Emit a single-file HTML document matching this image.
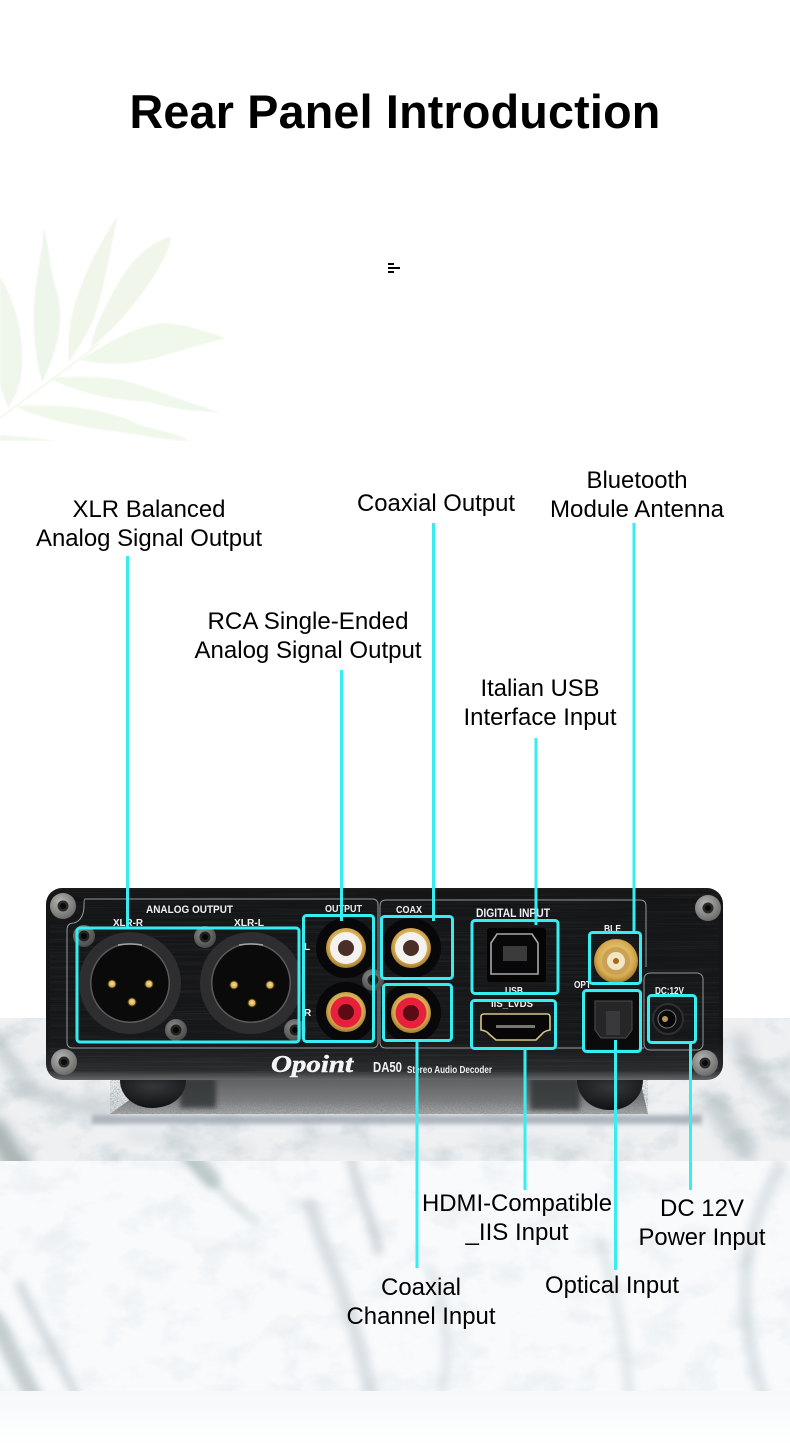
<!DOCTYPE html>
<html><head><meta charset="utf-8"><title>Rear Panel Introduction</title>
<style>html,body{margin:0;padding:0;background:#fff;width:790px;height:1449px;overflow:hidden}svg{display:block}</style></head>
<body>
<svg xmlns="http://www.w3.org/2000/svg" width="790" height="1449" viewBox="0 0 790 1449" font-family="'Liberation Sans',sans-serif">
<defs>
<filter id="b05" x="-10%" y="-10%" width="120%" height="120%"><feGaussianBlur stdDeviation=".7"/></filter>
<filter id="b1" x="-10%" y="-100%" width="120%" height="300%"><feGaussianBlur stdDeviation="2"/></filter>
<filter id="b2" x="-30%" y="-30%" width="160%" height="160%"><feGaussianBlur stdDeviation="2.5"/></filter>
<filter id="b3" filterUnits="userSpaceOnUse" x="-50" y="1100" width="890" height="340"><feGaussianBlur stdDeviation="4"/></filter>
<filter id="b4" filterUnits="userSpaceOnUse" x="-50" y="980" width="890" height="240"><feGaussianBlur stdDeviation="6"/></filter>
<filter id="mt" x="0" y="0" width="100%" height="100%">
<feTurbulence type="fractalNoise" baseFrequency="0.025 0.035" numOctaves="5" seed="11"/>
<feColorMatrix values="0 0 0 0 .62 0 0 0 0 .68 0 0 0 0 .71 3 0 0 0 -1.45"/>
</filter>
<filter id="brush" x="0" y="0" width="100%" height="100%">
<feTurbulence type="fractalNoise" baseFrequency="0.008 0.8" numOctaves="2" seed="3"/>
<feColorMatrix values="0 0 0 0 .45 0 0 0 0 .45 0 0 0 0 .45 1.4 0 0 0 -0.6"/>
</filter>
<filter id="grain" x="0" y="0" width="100%" height="100%">
<feTurbulence type="fractalNoise" baseFrequency="0.75" numOctaves="2" seed="5"/>
<feColorMatrix values="0 0 0 0 .15 0 0 0 0 .15 0 0 0 0 .15 2 0 0 0 -0.8"/>
</filter>
<linearGradient id="bot" x1="0" y1="0" x2="0" y2="1"><stop offset="0" stop-color="#f6f8f9"/><stop offset="1" stop-color="#fff"/></linearGradient>
<linearGradient id="body" x1="0" y1="0" x2="0" y2="1"><stop offset="0" stop-color="#1c1d1f"/><stop offset=".02" stop-color="#141517"/><stop offset=".8" stop-color="#161719"/><stop offset=".95" stop-color="#2a2b2d"/><stop offset="1" stop-color="#68696c"/></linearGradient>
<linearGradient id="plat" x1="0" y1="0" x2="0" y2="1"><stop offset="0" stop-color="#5f6062"/><stop offset=".6" stop-color="#7e7f81"/><stop offset="1" stop-color="#a8a9ab"/></linearGradient>
<radialGradient id="foot" cx=".5" cy=".25" r=".8"><stop offset="0" stop-color="#36373a"/><stop offset="1" stop-color="#0e0f11"/></radialGradient>
<radialGradient id="screw" cx=".4" cy=".35" r=".8"><stop offset="0" stop-color="#b6b6b4"/><stop offset="1" stop-color="#5c5c5a"/></radialGradient>
<radialGradient id="screwd" cx=".4" cy=".35" r=".8"><stop offset="0" stop-color="#8a8a88"/><stop offset="1" stop-color="#3c3c3c"/></radialGradient>
<radialGradient id="gold" cx=".5" cy=".45" r=".6"><stop offset="0" stop-color="#f6e3a0"/><stop offset=".7" stop-color="#d5a94e"/><stop offset="1" stop-color="#8b6720"/></radialGradient>
<clipPath id="leafclip"><rect x="0" y="200" width="260" height="241"/></clipPath>
<clipPath id="m1"><rect x="0" y="1018" width="790" height="143"/></clipPath>
<clipPath id="m2"><rect x="0" y="1161" width="790" height="230"/></clipPath>
<g id="sc"><circle r="11" fill="url(#screwd)"/><circle r="5.500" fill="#232324"/><circle r="3" fill="#060606"/></g>
<g id="sc2"><circle r="13" fill="url(#screw)"/><circle r="5.500" fill="#2a2a2b"/><circle r="3" fill="#0a0a0a"/></g>
</defs>

<rect width="790" height="1449" fill="#fff"/>

<!-- leaves -->
<g clip-path="url(#leafclip)">
<g filter="url(#b05)">
<path d="M0 276C14 300 23 330 22 362C22 385 15 396 8 408C4 396 0 386 0 384Z" fill="#eff6ec"/>
<path d="M44 228C50 250 50 275 58 295C63 320 60 345 42 382C36 360 33 335 34 305C36 275 42 255 44 228Z" fill="#eef5eb"/>
<path d="M118 215C110 250 105 285 95 315C88 335 76 350 69 362C67 340 70 315 78 295C88 265 105 235 118 215Z" fill="#f0f6ea"/>
<path d="M172 236C165 265 145 290 125 315C112 330 100 340 90 349C95 325 110 295 128 268C142 250 158 240 172 236Z" fill="#f0f6ea"/>
<path d="M226 338C205 332 190 325 165 323C135 325 105 345 80 360C110 366 135 365 165 355C190 348 210 342 226 338Z" fill="#eff8ea"/>
<path d="M220 412C195 405 170 395 130 382C105 376 75 376 50 378C75 392 110 400 150 402C175 410 200 412 220 412Z" fill="#eff8ea"/>
<path d="M190 441C175 432 155 430 140 425C110 410 70 403 15 406C45 422 90 428 140 435C155 438 175 441 190 441Z" fill="#f0f8eb"/>
<path d="M0 435C20 436 40 438 54 441H0Z" fill="#f0f8eb"/>
</g>
<path d="M0 418L50 381L78 360L100 343" stroke="#f5f8ea" stroke-width="2" fill="none"/>
</g>

<!-- title -->
<text x="395" y="128" text-anchor="middle" font-size="47" font-weight="bold" fill="#000" textLength="531" lengthAdjust="spacingAndGlyphs" style="letter-spacing:.2px">Rear Panel Introduction</text>

<!-- glyph -->
<rect x="388" y="263" width="6" height="2" fill="#000"/>
<rect x="388" y="267" width="12" height="2" fill="#000"/>
<rect x="388" y="271" width="6" height="2" fill="#000"/>

<!-- marble -->
<rect x="0" y="1018" width="790" height="143" fill="#eef0f2"/>
<rect x="0" y="1161" width="790" height="230" fill="#f8fafc"/>
<rect x="0" y="1018" width="790" height="143" filter="url(#mt)" opacity=".8"/>
<rect x="0" y="1161" width="790" height="230" filter="url(#mt)" opacity=".25"/>
<g clip-path="url(#m1)">
<g fill="none" stroke="#9daab0" stroke-linecap="round" filter="url(#b4)">
<path d="M-5 1040L30 1090L70 1105L110 1110" stroke-width="14" opacity=".45"/>
<path d="M-5 1130L20 1170" stroke="#7d8d8d" stroke-width="24" opacity=".6"/>
<path d="M715 1105L745 1150" stroke-width="22" opacity=".45"/>
<path d="M740 1040C745 1070 770 1095 790 1105" stroke-width="16" opacity=".4"/>
<path d="M130 1135L250 1150M300 1135L400 1150M480 1140L590 1150" stroke-width="6" opacity=".3"/>
</g>
</g>
<g clip-path="url(#m2)">
<g fill="none" stroke="#a6b2b8" stroke-linecap="round" filter="url(#b3)">
<path d="M185 1150C195 1175 215 1180 225 1195C235 1205 245 1215 255 1220" stroke-width="6" opacity=".4"/>
<path d="M190 1155L212 1180" stroke="#93a8a8" stroke-width="18" opacity=".5"/>
<path d="M310 1205C320 1240 335 1270 345 1300C355 1330 365 1365 372 1400" stroke-width="14" opacity=".35"/>
<path d="M350 1150C355 1190 372 1215 378 1250" stroke-width="10" opacity=".45"/>
<path d="M20 1285C35 1320 55 1350 78 1400" stroke-width="10" opacity=".4"/>
<path d="M-5 1320L35 1400" stroke="#98a8a8" stroke-width="18" opacity=".5"/>
<path d="M600 1240C615 1290 625 1340 630 1400" stroke-width="10" opacity=".25"/>
<path d="M780 1165C745 1230 730 1300 765 1400" stroke-width="12" opacity=".3"/>
<path d="M430 1270C450 1320 450 1360 440 1400" stroke-width="10" opacity=".25"/>
</g>
</g>
<rect x="0" y="1391" width="790" height="58" fill="url(#bot)"/>

<!-- platform + shadow -->
<rect x="92" y="1115" width="610" height="9" fill="#9aa2ad" opacity=".75" filter="url(#b1)"/>
<path d="M110 1114L150 1085V1080H640L648 1114Z" fill="url(#plat)"/>
<path d="M110 1114L150 1085V1080H640L648 1114Z" filter="url(#grain)" opacity=".6"/>
<rect x="180" y="1078" width="36" height="30" fill="#2c2d2f" opacity=".75" filter="url(#b2)"/>
<rect x="530" y="1078" width="50" height="32" fill="#2c2d2f" opacity=".75" filter="url(#b2)"/>
<!-- feet -->
<path d="M120 1080H186C186 1096 172 1108 152 1108C134 1108 120 1096 120 1080Z" fill="url(#foot)"/>
<path d="M577 1080H643C643 1096 630 1110 610 1110C590 1110 577 1096 577 1080Z" fill="url(#foot)"/>

<!-- body -->
<rect x="46" y="888" width="677" height="192" rx="16" fill="url(#body)"/>
<rect x="50" y="892" width="669" height="184" rx="12" filter="url(#brush)" opacity=".14"/>
<!-- panel outlines -->
<g fill="none" stroke="#97989a" stroke-width="1">
<path d="M85 899H372Q378 899 378 905V1042Q378 1048 372 1048H73Q67 1048 67 1042V930Q67 923 74 923Q84 920 84 905Q84 899 85 899Z"/>
<path d="M386 900H640Q646 900 646 906V967M386 900Q380 900 380 906V1042Q380 1048 386 1048H644"/>
<rect x="644" y="973" width="59" height="77" rx="6"/>
</g>

<!-- screws -->
<use href="#sc2" x="63" y="906"/><use href="#sc2" x="708" y="908"/>
<use href="#sc2" x="64" y="1062"/><use href="#sc2" x="705" y="1063"/>
<use href="#sc" x="84" y="936"/><use href="#sc" x="205" y="937"/>
<use href="#sc" x="176" y="1030"/><use href="#sc" x="295" y="1030"/><use href="#sc" x="373" y="980"/>

<!-- XLR -->
<g>
<circle cx="130" cy="983" r="51" fill="#2e2e30"/><circle cx="130" cy="983" r="40" fill="#5a5a5c"/><circle cx="130" cy="983" r="38.500" fill="#0a0a0b"/>
<circle cx="251" cy="983" r="51" fill="#2e2e30"/><circle cx="251" cy="983" r="40" fill="#5a5a5c"/><circle cx="251" cy="983" r="38.500" fill="#0a0a0b"/>
<path d="M118 945Q130 943 142 945M239 945Q251 943 263 945" stroke="#a4a4a4" stroke-width="1.5" fill="none"/>
<g fill="url(#gold)" stroke="#4a390f" stroke-width="1">
<circle cx="112" cy="984" r="4"/><circle cx="149" cy="984" r="4"/><circle cx="132" cy="1002" r="4"/>
<circle cx="234" cy="985" r="4"/><circle cx="270" cy="985" r="4"/><circle cx="252" cy="1003" r="4"/>
</g>
</g>

<!-- RCA -->
<g>
<circle cx="346" cy="948" r="30" fill="#08080a"/><circle cx="346" cy="948" r="20" fill="url(#gold)"/><circle cx="346" cy="948" r="16" fill="#f4f2ee"/><circle cx="346" cy="948" r="8" fill="#4a2f28"/>
<circle cx="346" cy="1012" r="30" fill="#08080a"/><circle cx="346" cy="1012" r="20" fill="url(#gold)"/><circle cx="346" cy="1012" r="15.500" fill="#e8203c"/><circle cx="346" cy="1012" r="8" fill="#5c0b15"/>
<circle cx="411" cy="948" r="30" fill="#08080a"/><circle cx="411" cy="948" r="20" fill="url(#gold)"/><circle cx="411" cy="948" r="16" fill="#f4f2ee"/><circle cx="411" cy="948" r="8" fill="#4a2f28"/>
<circle cx="411" cy="1013" r="30" fill="#08080a"/><circle cx="411" cy="1013" r="20" fill="url(#gold)"/><circle cx="411" cy="1013" r="15.500" fill="#e8203c"/><circle cx="411" cy="1013" r="8" fill="#5c0b15"/>
</g>

<!-- USB -->
<rect x="487" y="928" width="59" height="54" rx="3" fill="#050506"/>
<path d="M497 934H532L538 943V974H491V943Z" fill="#08080a" stroke="#a8a8a6" stroke-width="1.6"/>
<rect x="503" y="946" width="24" height="15" fill="#3b3b3c"/>
<!-- HDMI -->
<path d="M481 1017Q481 1014 484 1014H547Q550 1014 550 1017V1030Q544 1031 542 1034L536 1040H496L489 1034Q487 1031 481 1030Z" fill="#070708" stroke="#d8c48a" stroke-width="1.6"/>
<rect x="496" y="1025" width="39" height="3" fill="#77776f"/>
<!-- BLE -->
<circle cx="616" cy="961" r="22" fill="url(#gold)"/><circle cx="616" cy="961" r="14" fill="#caa155"/><circle cx="616" cy="961" r="9" fill="#f1e6c4"/><circle cx="616" cy="961" r="3" fill="#a06a18"/>
<!-- OPT -->
<rect x="585" y="993" width="54" height="56" rx="2" fill="#0b0b0c"/>
<path d="M595 1001H632V1030L626 1038H601L595 1030Z" fill="#262628" stroke="#4a4b4e"/>
<rect x="606" y="1011" width="14" height="24" fill="#39393b"/>
<!-- DC -->
<circle cx="668" cy="1019" r="15" fill="#131316" stroke="#303032" stroke-width="2"/>
<circle cx="667" cy="1019" r="9" fill="#070708" stroke="#767676"/>
<circle cx="665" cy="1019" r="3" fill="#b49a52"/>

<!-- device text -->
<g fill="#f1f1f1" font-weight="bold">
<text x="146" y="913" font-size="11" textLength="87" lengthAdjust="spacingAndGlyphs">ANALOG OUTPUT</text>
<text x="113" y="926" font-size="10" textLength="30" lengthAdjust="spacingAndGlyphs">XLR-R</text>
<text x="234" y="926" font-size="10" textLength="30" lengthAdjust="spacingAndGlyphs">XLR-L</text>
<text x="325" y="912" font-size="10" textLength="37" lengthAdjust="spacingAndGlyphs">OUTPUT</text>
<text x="396" y="913" font-size="10" textLength="26" lengthAdjust="spacingAndGlyphs">COAX</text>
<text x="476" y="917" font-size="12" textLength="74" lengthAdjust="spacingAndGlyphs">DIGITAL INPUT</text>
<text x="604" y="932" font-size="10" textLength="17" lengthAdjust="spacingAndGlyphs">BLE</text>
<text x="505" y="994" font-size="10" textLength="18" lengthAdjust="spacingAndGlyphs">USB</text>
<text x="491" y="1007" font-size="10" textLength="42" lengthAdjust="spacingAndGlyphs">IIS_LVDS</text>
<text x="574" y="988" font-size="10" textLength="17" lengthAdjust="spacingAndGlyphs">OPT</text>
<text x="655" y="994" font-size="10" textLength="29" lengthAdjust="spacingAndGlyphs">DC:12V</text>
<text x="304" y="950" font-size="10">L</text>
<text x="304" y="1016" font-size="10">R</text>
<text x="373" y="1072" font-size="15" textLength="29" lengthAdjust="spacingAndGlyphs">DA50</text>
<text x="407" y="1073" font-size="10" textLength="85" lengthAdjust="spacingAndGlyphs">Stereo Audio Decoder</text>
</g>
<text x="271" y="1072" font-family="'Liberation Serif',serif" font-style="italic" font-weight="bold" font-size="24" fill="#f4f4f4" stroke="#f4f4f4" stroke-width=".5" textLength="82" lengthAdjust="spacingAndGlyphs">Opoint</text>

<!-- cyan leaders -->
<g stroke="#36eef2" stroke-width="3" fill="none">
<path d="M127.500 556V928M341.500 670V921M433.500 523V921M536 738V925M634 523V932M417 1041V1268M525 1049V1190M615.500 1040V1270M690.500 1043V1190"/>
<rect x="77" y="928" width="222" height="114" rx="3"/>
<rect x="303.500" y="915.500" width="70" height="126" rx="3"/>
<rect x="381.500" y="916.500" width="71" height="62" rx="3"/>
<rect x="383.500" y="984.500" width="68" height="56" rx="3"/>
<rect x="472" y="920.500" width="86" height="73" rx="3"/>
<rect x="471.500" y="1000.500" width="84" height="48" rx="3"/>
<rect x="589.500" y="932.500" width="51" height="51" rx="3"/>
<rect x="583.500" y="990.500" width="57" height="61" rx="3"/>
<rect x="648.500" y="995.500" width="47" height="47" rx="3"/>
</g>

<!-- labels -->
<g font-size="24" fill="#000" text-anchor="middle">
<text x="149" y="517" textLength="153" lengthAdjust="spacingAndGlyphs">XLR Balanced</text>
<text x="149" y="546" textLength="226" lengthAdjust="spacingAndGlyphs">Analog Signal Output</text>
<text x="308" y="629" textLength="201" lengthAdjust="spacingAndGlyphs">RCA Single-Ended</text>
<text x="308" y="658" textLength="227" lengthAdjust="spacingAndGlyphs">Analog Signal Output</text>
<text x="436" y="511" textLength="158" lengthAdjust="spacingAndGlyphs">Coaxial Output</text>
<text x="637" y="488" textLength="101" lengthAdjust="spacingAndGlyphs">Bluetooth</text>
<text x="637" y="517" textLength="174" lengthAdjust="spacingAndGlyphs">Module Antenna</text>
<text x="540" y="696" textLength="119" lengthAdjust="spacingAndGlyphs">Italian USB</text>
<text x="540" y="725" textLength="153" lengthAdjust="spacingAndGlyphs">Interface Input</text>
<text x="517" y="1211" textLength="190" lengthAdjust="spacingAndGlyphs">HDMI-Compatible</text>
<text x="517" y="1240" textLength="103" lengthAdjust="spacingAndGlyphs">_IIS Input</text>
<text x="702" y="1216" textLength="84" lengthAdjust="spacingAndGlyphs">DC 12V</text>
<text x="702" y="1245" textLength="127" lengthAdjust="spacingAndGlyphs">Power Input</text>
<text x="421" y="1295" textLength="80" lengthAdjust="spacingAndGlyphs">Coaxial</text>
<text x="421" y="1324" textLength="149" lengthAdjust="spacingAndGlyphs">Channel Input</text>
<text x="612" y="1293" textLength="134" lengthAdjust="spacingAndGlyphs">Optical Input</text>
</g>
</svg>
</body></html>
